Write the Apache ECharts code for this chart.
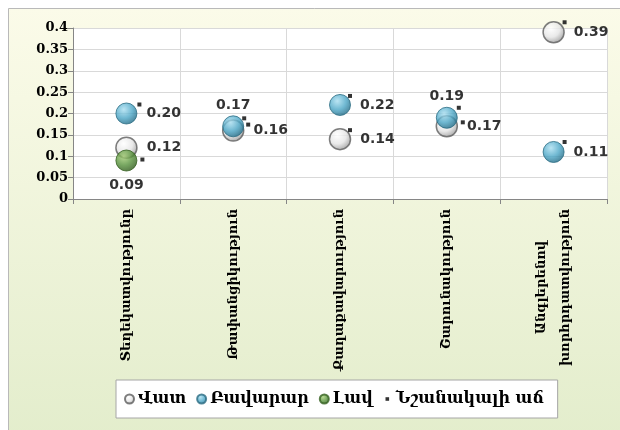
<!DOCTYPE html>
<html>
<head>
<meta charset="utf-8">
<script src="https://cdn.jsdelivr.net/npm/echarts@6/dist/echarts.min.js"></script>
<style>html,body{margin:0;padding:0;background:#fff}#c{width:620px;height:430px}</style>
</head>
<body>
<div id="c"></div>
<script>
// ---- data ----
const categories = ['Տեղեկատվությունը', 'Թափանցիկություն', 'Քաղաքավարություն', 'Շարունակություն', 'Անգլերենով\nխորհրդատվություն'];
const seriesNames = ['Վատ', 'Բավարար', 'Լավ', 'Նշանակալի աճ'];
const badValues = [0.12, 0.16, 0.14, 0.17, 0.39];
const okValues = [0.20, 0.17, 0.22, 0.19, 0.11];
const goodValues = [0.09, null, null, null, null];
// which points carry the "significant growth" mark
const sigBad = [null, 0.16, 0.14, 0.17, 0.39];
const sigOk = [0.20, 0.17, 0.22, 0.19, 0.11];
const sigGood = [0.09, null, null, null, null];
const yMin = 0, yMax = 0.4, yStep = 0.05;

// ---- styling ----
const badLabelPos = ['right', 'right', 'right', 'right', 'right'];
const okLabelPos = ['right', 'top', 'right', 'top', 'right'];
const goodLabelPos = ['bottom', 'bottom', 'bottom', 'bottom', 'bottom'];
const badSigOffset = [[0,0], [15,-6], [10,-9], [16,-4], [11,-10]];
const okSigOffset = [[13,-9], [11,-8], [10,-9], [12,-10], [11,-10]];
const goodSigOffset = [[16,-1], [0,0], [0,0], [0,0], [0,0]];

const labelFont = { fontFamily: 'DejaVu Sans', fontWeight: 'bold', fontSize: 14, color: '#000' };
const serifBold = { fontFamily: 'DejaVu Serif', fontWeight: 'bold', color: '#000' };

function pointData(vals, positions) {
  return vals.map((v, i) => {
    if (v === null) return '-';
    const pos = positions[i];
    return {
      value: v,
      label: {
        show: true,
        position: pos,
        distance: pos === 'top' ? 3 : (pos === 'bottom' ? 7 : 9),
        formatter: p => Number(p.value).toFixed(2)
      }
    };
  });
}
function sigData(vals, offsets) {
  return vals.map((v, i) => v === null ? '-' : { value: v, symbolOffset: offsets[i] });
}
function ball(c0, c1, c2) {
  return { type: 'radial', x: 0.38, y: 0.32, r: 0.72,
    colorStops: [{ offset: 0, color: c0 }, { offset: 0.55, color: c1 }, { offset: 1, color: c2 }] };
}

const chart = echarts.init(document.getElementById('c'), null, { renderer: 'canvas' });
chart.setOption({
  animation: false,
  backgroundColor: '#ffffff',
  graphic: [{
    type: 'rect', z: -100, silent: true,
    shape: { x: 8.5, y: 8.5, width: 620, height: 430 },
    style: {
      fill: { type: 'linear', x: 0, y: 0, x2: 0, y2: 1,
        colorStops: [{ offset: 0, color: '#fbfbe9' }, { offset: 1, color: '#e3edcc' }] },
      stroke: '#b9b9b9', lineWidth: 1
    }
  }],
  grid: { left: 73, right: 13, top: 28, bottom: 231, show: true, backgroundColor: '#ffffff', borderWidth: 0 },
  legend: {
    left: 116, top: 380,
    backgroundColor: '#ffffff', borderColor: '#a6a6a6', borderWidth: 1,
    padding: [11, 14, 11, 8],
    itemGap: 10, itemWidth: 9, itemHeight: 9,
    textStyle: Object.assign({ fontSize: 16, padding: [0, 0, 0, -1] }, serifBold),
    data: [
      { name: seriesNames[0], icon: 'circle' },
      { name: seriesNames[1], icon: 'circle' },
      { name: seriesNames[2], icon: 'circle' },
      { name: seriesNames[3], icon: 'path://M0,0L0,0M10,10L10,10M3,3L7,3L7,7L3,7Z' }
    ]
  },
  xAxis: {
    type: 'category',
    data: categories,
    boundaryGap: true,
    axisLine: { lineStyle: { color: '#868686', width: 1 } },
    axisTick: { show: true, length: 5, lineStyle: { color: '#868686' } },
    splitLine: { show: true, lineStyle: { color: '#d9d9d9', width: 1 } },
    axisLabel: {
      rotate: 90, interval: 0, margin: 10,
      fontFamily: 'DejaVu Serif', fontWeight: 'bold', fontSize: 13, color: '#000',
      lineHeight: 24,
      formatter: v => {
        const parts = v.split('\n');
        if (parts.length === 1) return v;
        return '{a|' + parts[0] + '}\n{b|' + parts[1] + '}';
      },
      rich: {
        a: { align: 'center', fontFamily: 'DejaVu Serif', fontWeight: 'bold', fontSize: 13, lineHeight: 24 },
        b: { align: 'center', fontFamily: 'DejaVu Serif', fontWeight: 'bold', fontSize: 13, lineHeight: 24 }
      }
    }
  },
  yAxis: {
    type: 'value', min: yMin, max: yMax, interval: yStep,
    axisLine: { show: true, lineStyle: { color: '#868686', width: 1 } },
    axisTick: { show: true, length: 5, lineStyle: { color: '#868686' } },
    splitLine: { show: true, lineStyle: { color: '#d9d9d9', width: 1 } },
    axisLabel: { margin: 5, fontFamily: 'DejaVu Serif', fontWeight: 'bold', fontSize: 13, color: '#000' }
  },
  series: [
    {
      name: seriesNames[0], type: 'scatter', symbol: 'circle', symbolSize: 21, z: 3,
      itemStyle: { color: ball('#ffffff', '#e4e4e4', '#8f8f8f'), borderColor: '#5e5e5e', borderWidth: 1.5 },
      label: labelFont,
      data: pointData(badValues, badLabelPos)
    },
    {
      name: seriesNames[1], type: 'scatter', symbol: 'circle', symbolSize: 21, z: 4,
      itemStyle: { color: ball('#a9def0', '#4ba6c6', '#1d6580'), borderColor: '#2a6b82', borderWidth: 1 },
      label: labelFont,
      data: pointData(okValues, okLabelPos)
    },
    {
      name: seriesNames[2], type: 'scatter', symbol: 'circle', symbolSize: 21, z: 5,
      itemStyle: { color: ball('#a6cf77', '#55903a', '#2c5618'), borderColor: '#35601f', borderWidth: 1 },
      label: labelFont,
      data: pointData(goodValues, goodLabelPos)
    },
    {
      name: seriesNames[3], type: 'scatter', symbol: 'rect', symbolSize: [4, 4], z: 6,
      itemStyle: { color: '#000000' },
      data: sigData(sigBad, badSigOffset)
    },
    {
      name: seriesNames[3], type: 'scatter', symbol: 'rect', symbolSize: [4, 4], z: 6,
      itemStyle: { color: '#000000' },
      data: sigData(sigOk, okSigOffset)
    },
    {
      name: seriesNames[3], type: 'scatter', symbol: 'rect', symbolSize: [4, 4], z: 6,
      itemStyle: { color: '#000000' },
      data: sigData(sigGood, goodSigOffset)
    }
  ]
});
</script>
</body>
</html>
